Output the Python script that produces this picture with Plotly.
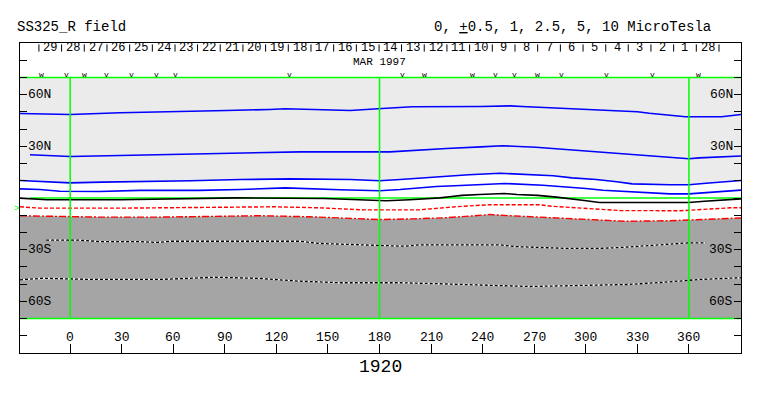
import plotly.graph_objects as go

# ---------------- data ----------------
lon_min, lon_max = -29.2, 390.3

# positive contours (blue)
c5_lon = [-29.2, 0, 29, 68, 91, 116, 125, 147, 163, 179, 188, 199, 239, 256, 263, 278, 295, 308, 317, 330, 337, 350, 358, 379, 385, 390.3]
c5_lat = [49.1, 48.5, 49.5, 50.1, 50.8, 51.4, 51.8, 51.2, 50.8, 51.8, 52.4, 53.0, 53.1, 53.5, 53.1, 52.4, 51.8, 51.2, 50.6, 50.1, 49.2, 47.9, 47.2, 47.2, 48.1, 48.5]

c25_lon = [-23.4, 0, 29, 68, 95, 116, 133.5, 186, 197.5, 219, 239, 251.5, 271, 283, 298, 318, 327, 339, 350, 360, 366, 385, 390.3]
c25_lat = [25.1, 24.1, 24.7, 25.4, 26.0, 26.6, 26.8, 26.8, 27.6, 28.7, 29.7, 30.3, 29.5, 28.6, 27.2, 26.0, 25.1, 24.1, 23.5, 22.8, 23.3, 24.1, 24.4]

c1_lon = [-29.2, -7.7, 0, 18.5, 46, 70, 99, 128, 163, 180, 192, 206, 220, 232, 250, 267, 281, 292, 306, 318, 327, 349, 360, 370, 385, 390.3]
c1_lat = [10.2, 9.0, 8.8, 9.2, 9.4, 10.0, 10.7, 11.1, 10.7, 10.0, 10.7, 11.7, 12.5, 13.5, 14.4, 13.6, 12.9, 11.7, 10.7, 9.4, 8.2, 7.7, 7.7, 8.6, 9.8, 10.2]

c05_lon = [-29.2, -17.6, -6, 0, 17, 40.5, 75, 99, 125, 157, 180, 192, 203, 213, 227, 244, 253, 275, 289, 300, 310, 327, 349, 360, 370, 385, 390.3]
c05_lat = [5.3, 4.9, 3.9, 3.8, 3.8, 4.4, 4.4, 4.9, 5.9, 4.8, 4.2, 4.9, 5.9, 6.7, 7.3, 8.2, 8.4, 7.4, 6.5, 5.5, 4.5, 3.4, 2.4, 2.4, 3.2, 4.4, 4.6]

# zero contour (black)
c0_lon = [-29.2, -13.5, 29, 68, 97, 148, 168, 184, 197.5, 208, 215, 222, 228, 238, 252.6, 260, 272, 283, 290, 298, 308, 360, 369, 380, 390.3]
c0_lat = [-0.1, -1.0, -1.0, -0.6, 0.1, -0.3, -1.0, -1.6, -1.0, -0.5, 0.1, 0.9, 1.5, 2.0, 2.6, 2.0, 1.5, 0.5, -0.5, -1.3, -2.6, -2.6, -1.9, -1.3, -0.5]

# negative contours
cm05_lon = [-29.2, -17.6, 29, 75, 104.5, 119, 145, 171, 203, 209, 224, 244, 273, 280, 296, 320, 355, 366, 384, 390.3]
cm05_lat = [-5.1, -5.9, -5.9, -5.5, -4.9, -5.1, -5.7, -6.9, -6.9, -6.3, -5.1, -3.9, -3.9, -4.8, -5.7, -7.3, -7.4, -6.7, -5.7, -5.7]

cm1_lon = [-29.2, -11.8, 17, 52, 81, 110, 139.4, 159.7, 180, 200, 218, 235, 244, 256, 273, 293.5, 322.5, 348.5, 363, 381, 390.3]
cm1_lat = [-10.3, -10.6, -11.1, -11.1, -10.7, -10.3, -10.9, -11.5, -12.5, -12.1, -11.5, -10.3, -9.6, -10.3, -11.1, -12.5, -13.5, -13.2, -12.5, -11.7, -11.6]

cm25_lon = [-14, 5.6, 17, 40.5, 50.5, 58, 133.5, 145, 163, 180, 194.6, 203, 250, 258.5, 290, 308, 322.5, 346, 360, 370]
cm25_lat = [-24.5, -24.5, -25.3, -25.3, -25.8, -25.1, -25.1, -26.4, -27.0, -27.4, -28.0, -27.2, -27.2, -28.2, -29.3, -29.3, -28.6, -27.0, -26.0, -26.0]

cm5_lon = [-29.2, -16, 13, 52, 68, 84, 110, 133.5, 157, 192, 215, 244, 267.5, 296, 325, 348.5, 366, 390.3]
cm5_lat = [-47.5, -46.6, -47.3, -47.3, -46.7, -46.0, -46.7, -48.3, -49.2, -49.2, -49.8, -50.6, -51.4, -50.8, -50.2, -48.7, -47.3, -46.3]

# date strip
day_labels = ["29", "28", "27", "26", "25", "24", "23", "22", "21", "20", "19", "18", "17", "16", "15",
              "14", "13", "12", "11", "10", "9", "8", "7", "6", "5", "4", "3", "2", "1", "28"]
day_tick_lon = [-18.2, -5.0, 8.2, 21.4, 34.6, 47.8, 61.0, 74.1, 87.3, 100.5, 113.7, 126.9, 140.1, 153.3, 166.5,
                179.7, 192.8, 206.0, 219.2, 232.4, 245.6, 258.8, 272.0, 285.2, 298.4, 311.6, 324.7, 337.9, 351.1, 364.3, 377.5]

vw_marks = ["w", "v", "w", "v", "v", "v", "v", "v", "v", "w", "w", "v", "v", "w", "v", "v", "v", "w"]
vw_lon = [-16.5, -1.9, 8.5, 21.3, 35.9, 50.4, 61.5, 127.7, 193.4, 206.2, 234.1, 247.5, 258.5, 271.9, 285.8, 312, 338.8, 365.5]

x_ticks = [0, 30, 60, 90, 120, 150, 180, 210, 240, 270, 300, 330, 360]
lat_labels = ["60N", "30N", "30S", "60S"]
lat_label_vals = [60, 30, -30, -60]
meridians = [0, 180, 360]

# ---------------- figure ----------------
LIGHT = "#EBEBEB"
DARK = "#A5A5A5"
GREEN = "#00FF00"
FONT = "Liberation Mono"

fig = go.Figure()

def line(x, y, **kw):
    fig.add_trace(go.Scatter(x=x, y=y, mode="lines", showlegend=False, hoverinfo="skip", **kw))

# fills
line(c1_lon, c1_lat, line=dict(width=0))
line(c1_lon, [70] * len(c1_lon), line=dict(width=0), fill="tonexty", fillcolor=LIGHT)
line(cm1_lon, cm1_lat, line=dict(width=0))
line(cm1_lon, [-70] * len(cm1_lon), line=dict(width=0), fill="tonexty", fillcolor=DARK)

# equator
line([-23.4, lon_max], [0, 0], line=dict(color=GREEN, width=1.5))

# contours
for lx, ly in [(c5_lon, c5_lat), (c25_lon, c25_lat), (c1_lon, c1_lat), (c05_lon, c05_lat)]:
    line(lx, ly, line=dict(color="#0000FF", width=1.6))
line(c0_lon, c0_lat, line=dict(color="black", width=1.6))
line(cm05_lon, cm05_lat, line=dict(color="#FF0000", width=1.4, dash="4px,2px"))
line(cm1_lon, cm1_lat, line=dict(color="#FF0000", width=1.4, dash="7px,2px,2px,2px"))
for lx, ly in [(cm25_lon, cm25_lat), (cm5_lon, cm5_lat)]:
    line(lx, ly, line=dict(color="white", width=1.3))
    line(lx, ly, line=dict(color="black", width=1.3, dash="3px,2px"))

# green meridians and 70N / 70S borders
mx, my = [], []
for m in meridians:
    mx += [m, m, None]
    my += [-70, 70, None]
line(mx, my, line=dict(color=GREEN, width=1.5))
line([lon_min, lon_max, None, lon_min, lon_max], [70, 70, None, -70, -70], line=dict(color=GREEN, width=1.5))

# date ticks
tx, ty = [], []
for t in day_tick_lon:
    tx += [t, t, None]
    ty += [89.2, 85.0, None]
line(tx, ty, line=dict(color="black", width=1))

ann = []
half = (day_tick_lon[1] - day_tick_lon[0]) / 2
for t, lab in zip(day_tick_lon, day_labels):
    ann.append(dict(x=t + half, y=87.3, text=lab, font=dict(family=FONT, size=12, color="black")))
ann.append(dict(x=180, y=79.0, text="MAR 1997", font=dict(family=FONT, size=11, color="black")))
for t, lab in zip(vw_lon, vw_marks):
    ann.append(dict(x=t, y=71.5, text=lab, font=dict(family=FONT, size=8, color="black")))
for v in x_ticks:
    ann.append(dict(x=v, y=-81.0, text=str(v), font=dict(family=FONT, size=13, color="black")))
for lab, v in zip(lat_labels, lat_label_vals):
    ann.append(dict(x=-25.0, y=v, text=lab, xanchor="left", font=dict(family=FONT, size=13, color="black")))
    ann.append(dict(x=386.0, y=v, text=lab, xanchor="right", font=dict(family=FONT, size=13, color="black")))

for a in ann:
    a.setdefault("xanchor", "center")
    a.update(xref="x", yref="y", showarrow=False, yanchor="middle", borderpad=0)

ann.append(dict(xref="paper", yref="paper", x=-0.0055, y=0.4656, xanchor="center", yanchor="middle",
                text=">", showarrow=False, font=dict(family=FONT, size=9, color=GREEN)))
ann.append(dict(xref="paper", yref="paper", x=-0.007, y=1.05, xanchor="left", yanchor="middle",
                text="SS325_R field", showarrow=False, font=dict(family=FONT, size=14, color="black")))
ann.append(dict(xref="paper", yref="paper", x=0.5714, y=1.05, xanchor="left", yanchor="middle",
                text="0, <u>+</u>0.5, 1, 2.5, 5, 10 MicroTesla", showarrow=False,
                font=dict(family=FONT, size=14, color="black")))
ann.append(dict(xref="paper", yref="paper", x=0.5, y=-0.045, xanchor="center", yanchor="middle",
                text="1920", showarrow=False, font=dict(family=FONT, size=18, color="black")))

fig.update_layout(
    width=763, height=396,
    margin=dict(l=20, r=22, t=43, b=43, pad=0),
    paper_bgcolor="white", plot_bgcolor="white",
    annotations=ann,
    xaxis=dict(range=[lon_min, lon_max], showgrid=False, zeroline=False, showline=True, linecolor="black",
               linewidth=1, mirror=True, ticks="inside", ticklen=9, tickcolor="black",
               tickvals=x_ticks, showticklabels=False),
    yaxis=dict(range=[-90, 90], showgrid=False, zeroline=False, showline=True, linecolor="black",
               linewidth=1, mirror="ticks", ticks="inside", ticklen=7, tickcolor="black",
               tick0=0, dtick=10, showticklabels=False),
)

fig.write_html("out.html", config={"displayModeBar": False},
               post_script="document.body.style.margin='0';")
